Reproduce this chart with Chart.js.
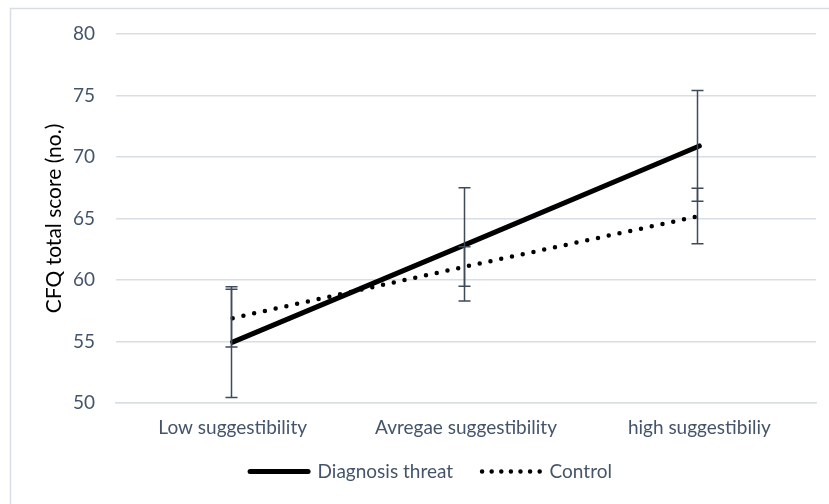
<!DOCTYPE html>
<html>
<head>
<meta charset="utf-8">
<script src="https://cdn.jsdelivr.net/npm/chart.js@4/dist/chart.umd.min.js"></script>
<style>
html,body{margin:0;padding:0;background:#fff;}
#wrap{width:829px;height:504px;position:relative;}
</style>
</head>
<body>
<div id="wrap"><canvas id="c" width="829" height="504"></canvas></div>
<script>
const categories = ["Low suggestibility", "Avregae suggestibility", "high suggestibiliy"];
const diagnosisThreat = [54.95, 62.9, 70.9];
const diagnosisThreatErr = [4.5, 4.6, 4.5];
const control = [56.9, 61.1, 65.2];
const controlErr = [2.35, 1.6, 2.25];
const yTicks = [50, 55, 60, 65, 70, 75, 80];

const textColor = '#44546a';
const gridColor = '#d9dde4';
const FONT = 'Lato, "Open Sans", sans-serif';
const FS = 19;

const errorBarPlugin = {
  id: 'errorBars',
  afterDatasetsDraw(chart) {
    const ctx = chart.ctx;
    const x = chart.scales.x, y = chart.scales.y;
    const sets = [[diagnosisThreat, diagnosisThreatErr], [control, controlErr]];
    ctx.save();
    ctx.strokeStyle = '#3f4a5a';
    ctx.lineWidth = 1.5;
    sets.forEach(([vals, errs]) => {
      vals.forEach((v, i) => {
        const px = Math.round(x.getPixelForValue(i)) - 1.5;
        const top = y.getPixelForValue(v + errs[i]);
        const bot = y.getPixelForValue(v - errs[i]);
        ctx.beginPath();
        ctx.moveTo(px, top); ctx.lineTo(px, bot);
        ctx.moveTo(px - 6, top); ctx.lineTo(px + 6, top);
        ctx.moveTo(px - 6, bot); ctx.lineTo(px + 6, bot);
        ctx.stroke();
      });
    });
    ctx.restore();
  }
};

const borderPlugin = {
  id: 'outerBorder',
  beforeDraw(chart) {
    const ctx = chart.ctx;
    ctx.save();
    ctx.fillStyle = '#fff';
    ctx.fillRect(0, 0, chart.width, chart.height);
    ctx.strokeStyle = gridColor;
    ctx.lineWidth = 1.5;
    ctx.strokeRect(10.5, 8.5, 840, 520);
    ctx.restore();
  }
};

const legendShift = {
  id: 'legendShift',
  afterUpdate(chart) {
    const lg = chart.legend;
    if (lg) { lg.left += 23; lg.right += 23; lg.top -= 13; lg.bottom -= 13; }
  }
};

new Chart(document.getElementById('c'), {
  type: 'line',
  data: {
    labels: categories,
    datasets: [
      {
        label: 'Diagnosis threat',
        data: diagnosisThreat,
        borderColor: '#000',
        backgroundColor: '#000',
        borderWidth: 5,
        borderCapStyle: 'round',
        pointRadius: 0,
        tension: 0
      },
      {
        label: 'Control',
        data: control,
        borderColor: '#000',
        backgroundColor: '#000',
        borderWidth: 4.5,
        borderDash: [0, 11],
        borderCapStyle: 'round',
        pointRadius: 0,
        tension: 0
      }
    ]
  },
  options: {
    responsive: false,
    animation: false,
    devicePixelRatio: 1,
    layout: { padding: { left: 0, right: 13, top: 34, bottom: 0 } },
    plugins: {
      tooltip: { enabled: false },
      legend: {
        position: 'bottom',
        labels: {
          color: textColor,
          font: { family: FONT, size: FS },
          usePointStyle: true,
          pointStyle: 'line',
          pointStyleWidth: 58,
          boxHeight: FS,
          padding: 29,
          generateLabels(chart) {
            return chart.data.datasets.map((ds, i) => ({
              text: ds.label,
              fillStyle: '#000',
              strokeStyle: '#000',
              lineWidth: i === 0 ? 5 : 4.5,
              lineDash: i === 0 ? [] : [0, 9.6],
              lineCap: 'round',
              pointStyle: 'line',
              fontColor: textColor,
              datasetIndex: i,
              hidden: false
            }));
          }
        }
      }
    },
    scales: {
      x: {
        offset: true,
        grid: { display: false, drawTicks: false },
        border: { display: true, color: gridColor, width: 1.5 },
        ticks: { color: textColor, font: { family: FONT, size: FS }, padding: 13 },
        afterFit(s) { s.height = 43; }
      },
      y: {
        min: 50, max: 80,
        afterBuildTicks(s) { s.ticks = yTicks.map(v => ({ value: v })); },
        grid: { color: gridColor, lineWidth: 1.5, drawTicks: false },
        border: { display: false },
        ticks: { color: textColor, font: { family: FONT, size: FS }, padding: 21 },
        title: {
          display: true,
          text: 'CFQ total score (no.)',
          color: '#000',
          font: { family: FONT, size: 21 },
          padding: { top: 42, bottom: 0 }
        },
        afterFit(s) { s.width = 116; }
      }
    }
  },
  plugins: [borderPlugin, errorBarPlugin, legendShift]
});
</script>
</body>
</html>
